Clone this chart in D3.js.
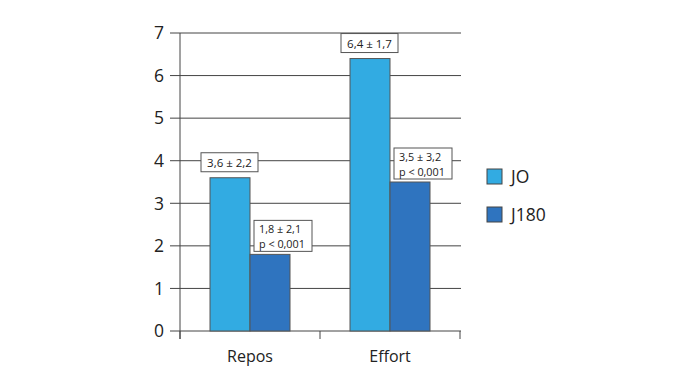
<!DOCTYPE html>
<html>
<head>
<meta charset="utf-8">
<script src="https://cdn.jsdelivr.net/npm/d3@7"></script>
<style>
  body { margin: 0; background: #fff; }
  svg text { font-family: "Open Sans", "Noto Sans", sans-serif; fill: #222; }
</style>
</head>
<body>
<svg id="chart" width="700" height="375"></svg>
<script>
var categories = ["Repos", "Effort"],
    series = ["JO", "J180"],
    jo = [3.6, 6.4],
    j180 = [1.8, 3.5],
    joLabels = [["3,6 ± 2,2"], ["6,4 ± 1,7"]],
    j180Labels = [["1,8 ± 2,1", "p < 0,001"], ["3,5 ± 3,2", "p < 0,001"]],
    yTicks = [0, 1, 2, 3, 4, 5, 6, 7];

var colors = ["#32abe2", "#2f74bf"],
    line = "#444";

var svg = d3.select("#chart");

var x = d3.scaleBand().domain(categories).range([180, 460]).paddingInner(0).paddingOuter(0);
var x1 = d3.scaleBand().domain(series).range([30, 110]);
var y = d3.scaleLinear().domain([0, 7]).range([331, 33]);

// gridlines + y ticks
svg.append("g").selectAll("line")
    .data(yTicks)
  .enter().append("line")
    .attr("x1", 170).attr("x2", 461)
    .attr("y1", function(d) { return y(d); })
    .attr("y2", function(d) { return y(d); })
    .attr("stroke", line).attr("stroke-width", 1);

svg.append("g").selectAll("text")
    .data(yTicks)
  .enter().append("text")
    .attr("x", 164)
    .attr("y", function(d) { return y(d); })
    .attr("dy", "0.36em")
    .attr("text-anchor", "end")
    .style("font-size", "17.5px")
    .text(function(d) { return d; });

// bars
var data = categories.map(function(c, i) {
  return { cat: c, vals: [jo[i], j180[i]], labels: [joLabels[i], j180Labels[i]] };
});

var groups = svg.append("g").selectAll("g")
    .data(data)
  .enter().append("g")
    .attr("transform", function(d) { return "translate(" + x(d.cat) + ",0)"; });

groups.selectAll("rect")
    .data(function(d) { return d.vals; })
  .enter().append("rect")
    .attr("x", function(d, j) { return x1(series[j]); })
    .attr("width", x1.bandwidth())
    .attr("y", function(d) { return y(d); })
    .attr("height", function(d) { return y(0) - y(d); })
    .attr("fill", function(d, j) { return colors[j]; })
    .attr("stroke", "#555").attr("stroke-width", 1);

// axes lines
svg.append("line").attr("x1", 180).attr("x2", 180).attr("y1", y(7)).attr("y2", 339)
    .attr("stroke", line);
svg.append("g").selectAll("line")
    .data([180, 320, 460])
  .enter().append("line")
    .attr("x1", function(d) { return d; }).attr("x2", function(d) { return d; })
    .attr("y1", y(0)).attr("y2", 339)
    .attr("stroke", line);

svg.append("g").selectAll("text")
    .data(categories)
  .enter().append("text")
    .attr("x", function(d) { return x(d) + x.bandwidth() / 2; })
    .attr("y", 362)
    .attr("text-anchor", "middle")
    .style("font-size", "16px")
    .text(function(d) { return d; });

// value labels in boxes (one text element per line)
groups.each(function(d) {
  var g = d3.select(this);
  d.labels.forEach(function(lines, j) {
    var two = lines.length > 1,
        bx = j === 0 ? x1(series[0]) - 9 : x1(series[1]) + 4,
        bw = j === 0 ? 57 : 58,
        bh = two ? 31 : 19,
        by = y(d.vals[j]) - bh - (j === 0 ? 6 : 3);
    g.append("rect")
        .attr("x", bx).attr("y", by).attr("width", bw).attr("height", bh)
        .attr("fill", "#fff").attr("stroke", "#555").attr("stroke-width", 1);
    lines.forEach(function(l, k) {
      g.append("text")
          .attr("x", two ? bx + 5 : bx + bw / 2)
          .attr("y", by + (two ? 13 : 14) + k * 14.5)
          .attr("text-anchor", two ? "start" : "middle")
          .style("font-size", two ? "10.8px" : "11.5px")
          .text(l);
    });
  });
});

// legend
var legend = svg.append("g").selectAll("g")
    .data(series)
  .enter().append("g")
    .attr("transform", function(d, i) { return "translate(487," + (169 + i * 38) + ")"; });

legend.append("rect")
    .attr("width", 15).attr("height", 15)
    .attr("fill", function(d, i) { return colors[i]; })
    .attr("stroke", "#444");

legend.append("text")
    .attr("x", 24).attr("y", 8)
    .attr("dy", "0.36em")
    .style("font-size", "17.5px")
    .text(function(d) { return d; });
</script>
</body>
</html>
